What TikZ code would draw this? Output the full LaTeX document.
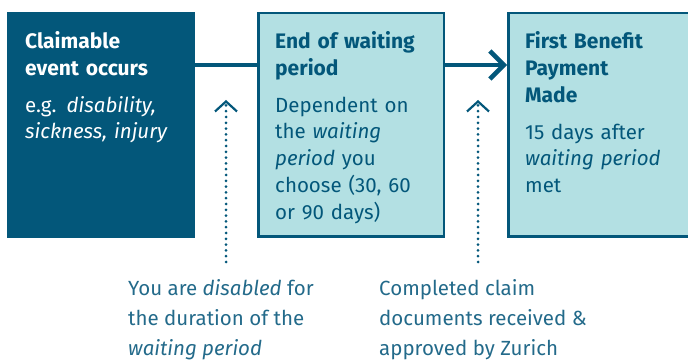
\documentclass[tikz,border=0pt]{standalone}
\usepackage{fontspec}
\setmainfont{Fira Sans}
\usetikzlibrary{arrows.meta,positioning}
\definecolor{zdark}{HTML}{03577A}
\definecolor{zlight}{HTML}{B3E0E3}
\definecolor{znote}{HTML}{236A8A}
\newcommand{\stagebox}[4][]{\node[stage,#1] at (#2) (#3) {};
  \node[boxtext] at ([xshift=18pt,yshift=-19pt]#3.north west) (#3text) {#4}}
\newcommand{\stagetitle}[1]{{\fontsize{21}{27}\selectfont\textbf{#1}\par}\vspace{10pt}}

\begin{document}
\begin{tikzpicture}[x=1pt,y=-1pt,
  stage/.style={draw=zdark,line width=2.5pt,fill=zlight,minimum width=185.5pt,minimum height=223.5pt,inner sep=0pt,anchor=north west},
  boxtext/.style={text=zdark,font=\fontsize{20.5}{26.8}\selectfont,text width=165pt,align=left,inner sep=0pt,anchor=north west},
  notetext/.style={text=znote,font=\fontsize{20.5}{30}\selectfont,align=left,inner sep=0pt,anchor=north west},
  flowline/.style={draw=zdark,line width=4.5pt},
  dotarrow/.style={draw=zdark,line width=3pt,line cap=round,dash pattern=on 0pt off 5.8pt,-{Straight Barb[length=10pt,width=22pt,line width=2.2pt]}}]
	\useasboundingbox (0,0) rectangle (688,363);
	
	% the three stages
	\stagebox[fill=zdark]{7,12}{claim}{\color{white}\stagetitle{Claimable\\event occurs}e.g. \textit{disability,\\sickness, injury}};
	\stagebox{257,12}{waitend}{\stagetitle{End of waiting\\period}Dependent on\\the \textit{waiting\\period} you\\choose (30, 60\\or 90 days)};
	\stagebox{507,12}{payment}{\stagetitle{First Benefit\\Payment\\Made}15 days after\\\textit{waiting period}\\met};
	
	\draw[flowline] ([yshift=-53pt]claim.north east) -- ([yshift=-53pt]waitend.north west);
	\draw[flowline,-{Straight Barb[length=14pt,width=28pt,line width=4.5pt]}] ([yshift=-53pt]waitend.north east) -- ([yshift=-53pt]payment.north west);
	
	% notes below
	\node[notetext] at (128,279) (disnote) {You are \textit{disabled} for\\the duration of the\\\textit{waiting period}};
	\node[notetext] at (379,279) (docnote) {Completed claim\\documents received \&\\approved by Zurich};
	
	\coordinate (disfoot) at (226,262);
	\coordinate (distip) at (226,100);
	\coordinate (docfoot) at (478,262);
	\coordinate (doctip) at (478,100);
	\draw[dotarrow] (disfoot) -- (distip);
	\draw[dotarrow] (docfoot) -- (doctip);
\end{tikzpicture}
\end{document}
